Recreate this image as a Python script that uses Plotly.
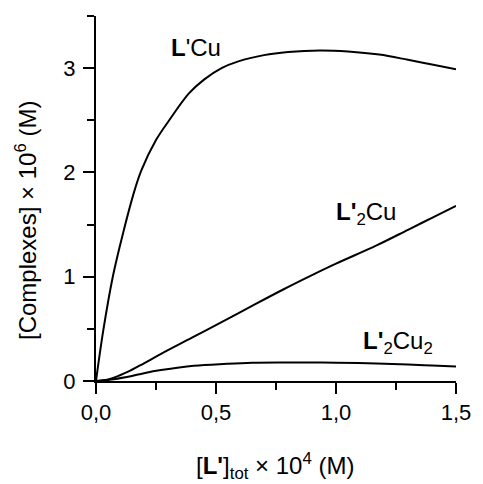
import plotly.graph_objects as go

# L'Cu complex concentration (x 1e6 M) vs total ligand (x 1e4 M)
lcu_x = [0, 0.03, 0.07, 0.113, 0.161, 0.189, 0.25, 0.305, 0.388, 0.45, 0.523, 0.593,
         0.7, 0.8, 0.934, 1.05, 1.18, 1.3, 1.4, 1.5]
lcu_y = [0, 0.48, 1.0, 1.42, 1.83, 2.02, 2.31, 2.5, 2.76, 2.89, 3.0, 3.065,
         3.125, 3.155, 3.17, 3.16, 3.13, 3.08, 3.035, 2.99]

l2cu_x = [0, 0.05, 0.1, 0.134, 0.2, 0.271, 0.4, 0.545, 0.65, 0.778, 0.9, 1.0,
          1.169, 1.3, 1.4, 1.5]
l2cu_y = [0, 0.015, 0.055, 0.089, 0.17, 0.26, 0.415, 0.59, 0.72, 0.875, 1.015, 1.125,
          1.30, 1.45, 1.565, 1.68]

l2cu2_x = [0, 0.05, 0.134, 0.2, 0.271, 0.408, 0.545, 0.65, 0.778, 0.9, 1.0, 1.169,
           1.3, 1.4, 1.5]
l2cu2_y = [0, 0.01, 0.041, 0.075, 0.105, 0.147, 0.165, 0.175, 0.178, 0.178, 0.175,
           0.168, 0.158, 0.148, 0.138]

x_ticks = [0, 0.5, 1.0, 1.5]
y_ticks = [0, 1, 2, 3]

FONT = "Liberation Sans, Arial, sans-serif"

fig = go.Figure()
for xs, ys in [(lcu_x, lcu_y), (l2cu_x, l2cu_y), (l2cu2_x, l2cu2_y)]:
    fig.add_trace(go.Scatter(x=xs, y=ys, mode="lines",
                             line=dict(color="black", width=2, shape="spline", smoothing=1.0),
                             showlegend=False, hoverinfo="skip"))

fig.update_layout(
    width=483, height=484,
    margin=dict(l=96, r=22, t=16, b=103),
    paper_bgcolor="white", plot_bgcolor="white",
    font=dict(family=FONT, color="black", size=22),
    separators=", ",
    showlegend=False,
)
fig.update_xaxes(
    range=[0, 1.5], tickvals=x_ticks, tickformat=".1f",
    showline=True, linecolor="black", linewidth=2,
    ticks="outside", ticklen=11, tickwidth=1.5, tickcolor="black",
    minor=dict(ticks="outside", ticklen=7, tickwidth=1.5, tickcolor="black", dtick=0.25, showgrid=False),
    showgrid=False, zeroline=False, tickfont=dict(size=22),
)
fig.update_yaxes(
    range=[0, 3.5], tickvals=y_ticks,
    showline=True, linecolor="black", linewidth=2,
    ticks="outside", ticklen=11, tickwidth=1.5, tickcolor="black",
    minor=dict(ticks="outside", ticklen=7, tickwidth=1.5, tickcolor="black", dtick=0.5, showgrid=False),
    showgrid=False, zeroline=False, tickfont=dict(size=22),
    ticklabelstandoff=3,
)

# axis titles
fig.add_annotation(xref="paper", yref="paper", x=-0.1945, y=0.441,
                   text="[Complexes] × 10<sup>6</sup> (M)", textangle=-90,
                   showarrow=False, font=dict(size=24), xanchor="center", yanchor="middle")
fig.add_annotation(xref="paper", yref="paper", x=0.496, y=-0.233,
                   text="[<b>L'</b>]<sub>tot</sub> × 10<sup>4</sup> (M)",
                   showarrow=False, font=dict(size=24), xanchor="center", yanchor="middle")

# curve labels
fig.add_annotation(x=0.416, y=3.20, text="<b>L</b>'Cu", showarrow=False,
                   font=dict(size=24), xanchor="center", yanchor="middle")
fig.add_annotation(x=1.125, y=1.61, text="<b>L'</b><sub>2</sub>Cu", showarrow=False,
                   font=dict(size=24), xanchor="center", yanchor="middle")
fig.add_annotation(x=1.259, y=0.37, text="<b>L'</b><sub>2</sub>Cu<sub>2</sub>", showarrow=False,
                   font=dict(size=24), xanchor="center", yanchor="middle")

fig.write_html("out.html")
